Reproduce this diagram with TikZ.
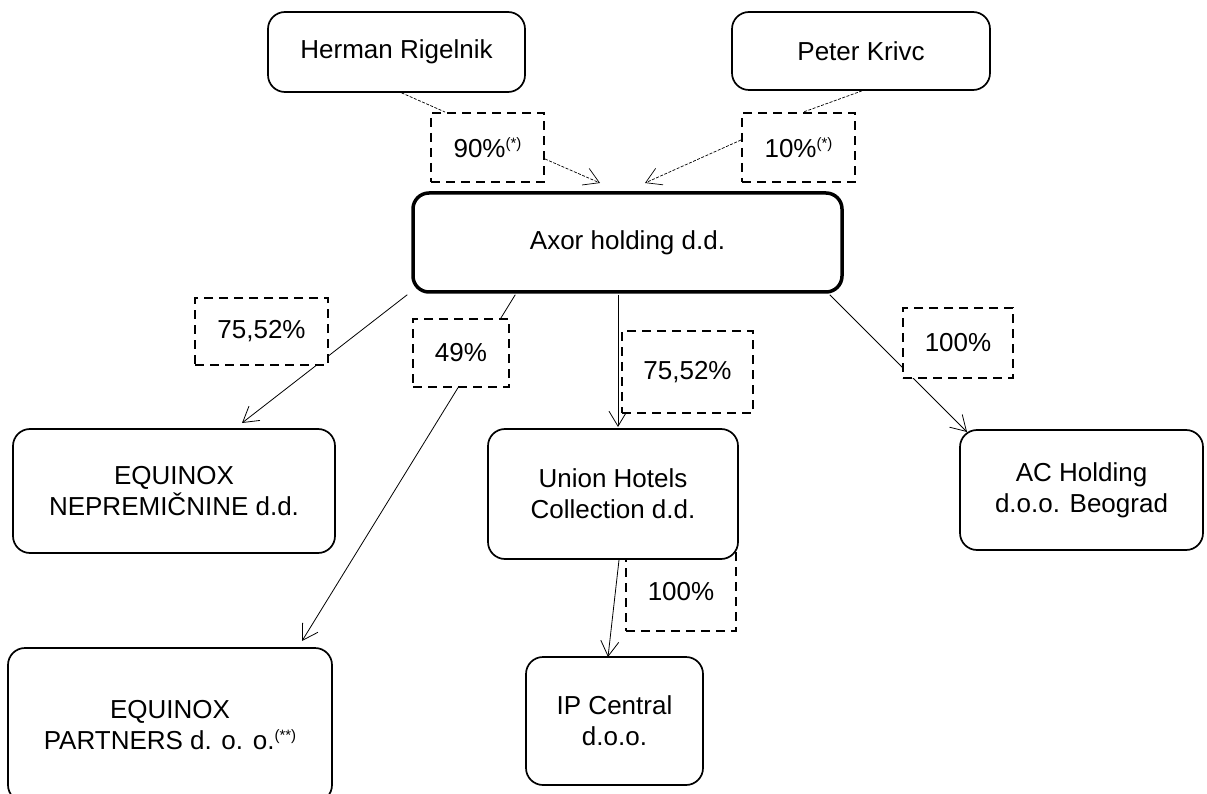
\documentclass[tikz,border=0pt]{standalone}
\usepackage{fontspec}
\setmainfont{Liberation Sans}
\usetikzlibrary{arrows.meta,calc}
\newcommand{\supst}[1]{{\fontsize{15}{15}\selectfont\raisebox{8.5pt}{#1}}}
\tikzset{
  entity/.style={draw, line width=1.7pt, rounded corners=17pt, fill=white, align=center, inner sep=0pt},
  holding/.style={entity, line width=3.5pt, rounded corners=16pt},
  share/.style={draw, line width=2pt, dash pattern=on 9pt off 6pt, fill=white, inner sep=0pt, align=center},
  link/.style={line width=0.8pt, -{Straight Barb[length=15pt,width=18pt]}},
  plink/.style={line width=0.7pt, dash pattern=on 3pt off 1.5pt},
  plinkarrow/.style={plink, -{Straight Barb[length=15pt,width=18pt]}},
}
\begin{document}
\begin{tikzpicture}[x={(1pt,0pt)}, y={(0pt,-1pt)}, font=\fontsize{26}{31}\selectfont]
\useasboundingbox (0,0) rectangle (1207,794);

% owners
\node[entity, minimum width=257pt, minimum height=80pt] (herman) at (396.5,52) {Herman Rigelnik};
\node[entity, minimum width=258pt, minimum height=78pt] (peter) at (861,51) {Peter Krivc};

% share label boxes of owners
\node[share, minimum width=113pt, minimum height=69pt] (l90) at (487.5,147.5) {90\%\supst{(*)}};
\node[share, minimum width=113pt, minimum height=69pt] (l10) at (798.5,147.5) {10\%\supst{(*)}};

% dashed links from owners
\draw[plink] ($(herman.south)+(5,0)$) -- ($(l90.north west)+(15,0)$);
\draw[plinkarrow] ($(l90.east)+(0,11.5)$) -- (600,183) coordinate (a90);
\draw[plink] ($(peter.south)+(1,0)$) -- ($(l10.north)+(5,0)$);
\draw[plinkarrow] ($(l10.west)+(0,-7.5)$) -- (645,183) coordinate (a10);

% holding box
\node[holding, minimum width=429pt, minimum height=99pt] (axor) at (627.5,242.5) {Axor holding d.d.};

% centres of lower entities
\coordinate (cN) at (174,491);
\coordinate (cP) at (170,725);
\coordinate (cU) at (613,494);
\coordinate (cA) at (1081.5,490);
\coordinate (cI) at (614.5,721);

% solid connectors (drawn before label boxes so that they are covered)
\draw[link] ($(axor.south west)+(-4,1)$) -- ($(cN)+(68,-68)$);
\draw[link] ($(axor.south west)+(104,1)$) -- ($(cP)+(132,-84)$);
\draw[link] ($(axor.south)+(-9.5,1)$) -- ($(cU)+(5,-67)$);
\draw[link] ($(axor.south east)+(-14,1)$) -- ($(cA)+(-114.5,-58)$);
\draw[link] ($(cU)+(6,66)$) -- ($(cI)+(-6.5,-64)$);

\node[share, minimum width=133pt, minimum height=67pt] (l7552a) at (261.5,331.5) {75,52\%};
\node[share, minimum width=96pt, minimum height=68pt] (l49) at (461,353) {49\%};
\node[share, minimum width=131pt, minimum height=82pt] (l7552b) at (687.5,372) {75,52\%};
\node[share, minimum width=110pt, minimum height=70pt] (l100ac) at (958,343) {100\%};
\node[share, minimum width=110pt, minimum height=79pt] (l100ip) at (681,591.5) {100\%};

% lower entities
\node[entity, minimum width=322pt, minimum height=124pt] (equinoxN) at (cN) {EQUINOX\\NEPREMIČNINE d.d.};
\node[entity, minimum width=324pt, minimum height=154pt] (partners) at (cP) {EQUINOX\\PARTNERS d. o. o.\supst{(**)}};
\node[entity, minimum width=250pt, minimum height=130pt] (union) at (cU) {Union Hotels\\Collection d.d.};
\node[entity, minimum width=243pt, minimum height=120pt] (ac) at (cA) {AC Holding\\d.o.o. Beograd};
\node[entity, minimum width=177pt, minimum height=128pt] (ip) at (cI) {IP Central\\d.o.o.};
\end{tikzpicture}
\end{document}
